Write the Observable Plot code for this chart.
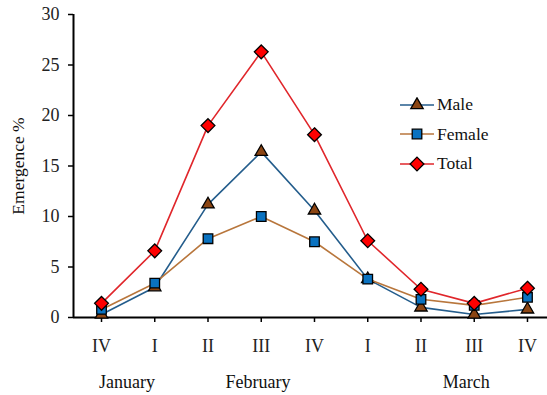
<!DOCTYPE html>
<html>
<head>
<meta charset="utf-8">
<script src="https://cdn.jsdelivr.net/npm/d3@7"></script>
<script src="https://cdn.jsdelivr.net/npm/@observablehq/plot@0.6"></script>
<style>
  body { margin: 0; background: #fff; }
  #wrap { position: relative; width: 547px; height: 395px; font-family: "Liberation Serif", "Times New Roman", serif; }
  #wrap svg text { font-family: "Liberation Serif", "Times New Roman", serif !important; }
  #legend { position: absolute; left: 400px; top: 90px; font-size: 17.5px; color: #111; }
  #legend .row { display: flex; align-items: center; height: 29.5px; }
  #legend svg { margin-right: 3px; }
</style>
</head>
<body>
<div id="wrap"></div>
<script>
const weeks = ["IV", "I", "II", "III", "IV", "I", "II", "III", "IV"];
const male = [0.3, 3.0, 11.2, 16.4, 10.6, 3.8, 1.0, 0.3, 0.8];
const female = [0.8, 3.4, 7.8, 10.0, 7.5, 3.8, 1.8, 1.2, 2.0];
const total = [1.4, 6.6, 19.0, 26.3, 18.1, 7.6, 2.8, 1.4, 2.9];
const months = ["January", "February", "March"];
const monthAt = [0.48, 2.94, 6.85];
const yTicks = [0, 5, 10, 15, 20, 25, 30];

const seriesStyle = [
  {name: "Male", values: male, line: "#245d8c", fill: "#8b4513", symbol: "triangle", r: 4.6},
  {name: "Female", values: female, line: "#b8763c", fill: "#0a72c0", symbol: "square", r: 5.4},
  {name: "Total", values: total, line: "#e0262b", fill: "#ff0000", symbol: "diamond2", r: 6.2}
];

const xDomain = [-0.526, 8.376];
const font = "'Liberation Serif', 'Times New Roman', serif";

const marks = [
  Plot.ruleY([0], {stroke: "#000", strokeWidth: 2}),
  Plot.ruleX([xDomain[0]], {stroke: "#000", strokeWidth: 2}),
  Plot.axisY({ticks: yTicks, tickSize: 5, tickPadding: 9, fontSize: 18, label: null, stroke: "#000", strokeWidth: 1.5, color: "#222"}),
  Plot.axisX({ticks: d3.range(weeks.length), tickFormat: i => weeks[i], tickSize: 5, tickPadding: 17, fontSize: 18, label: null, stroke: "#000", strokeWidth: 1.5, color: "#222"}),
  Plot.text(months, {x: (d, i) => monthAt[i], text: d => d, frameAnchor: "bottom", lineAnchor: "middle", dy: 65, fontSize: 18, fill: "#111"}),
  Plot.text(["Emergence %"], {frameAnchor: "left", textAnchor: "middle", lineAnchor: "middle", dx: -55, rotate: -90, fontSize: 17.5, fill: "#111"})
];

for (const s of seriesStyle) {
  const data = s.values.map((v, i) => ({i, v}));
  marks.push(Plot.line(data, {x: "i", y: "v", stroke: s.line, strokeWidth: 1.6}));
  marks.push(Plot.dot(data, {x: "i", y: "v", symbol: () => s.symbol, r: s.r, fill: s.fill, stroke: "#000", strokeWidth: 1.3}));
}

const chart = Plot.plot({
  width: 547,
  height: 395,
  marginLeft: 73,
  marginRight: 0,
  marginTop: 14,
  marginBottom: 78,
  style: {fontFamily: font, background: "#fff", overflow: "visible"},
  x: {type: "linear", domain: xDomain, axis: null},
  y: {domain: [0, 30], axis: null},
  symbol: {type: "identity"},
  marks
});

const wrap = document.getElementById("wrap");
wrap.appendChild(chart);

// legend
const legend = document.createElement("div");
legend.id = "legend";
for (const s of seriesStyle) {
  const row = document.createElement("div");
  row.className = "row";
  const svg = d3.create("svg").attr("width", 34).attr("height", 16);
  svg.append("line").attr("x1", 0).attr("x2", 34).attr("y1", 8).attr("y2", 8)
    .attr("stroke", s.line).attr("stroke-width", 1.6);
  const sym = {triangle: d3.symbolTriangle, square: d3.symbolSquare, diamond2: d3.symbolDiamond2}[s.symbol];
  svg.append("path").attr("transform", "translate(17,8)")
    .attr("d", d3.symbol(sym, s.r * s.r * Math.PI)())
    .attr("fill", s.fill).attr("stroke", "#000").attr("stroke-width", 1.3);
  row.appendChild(svg.node());
  const label = document.createElement("span");
  label.textContent = s.name;
  row.appendChild(label);
  legend.appendChild(row);
}
wrap.appendChild(legend);
</script>
</body>
</html>
